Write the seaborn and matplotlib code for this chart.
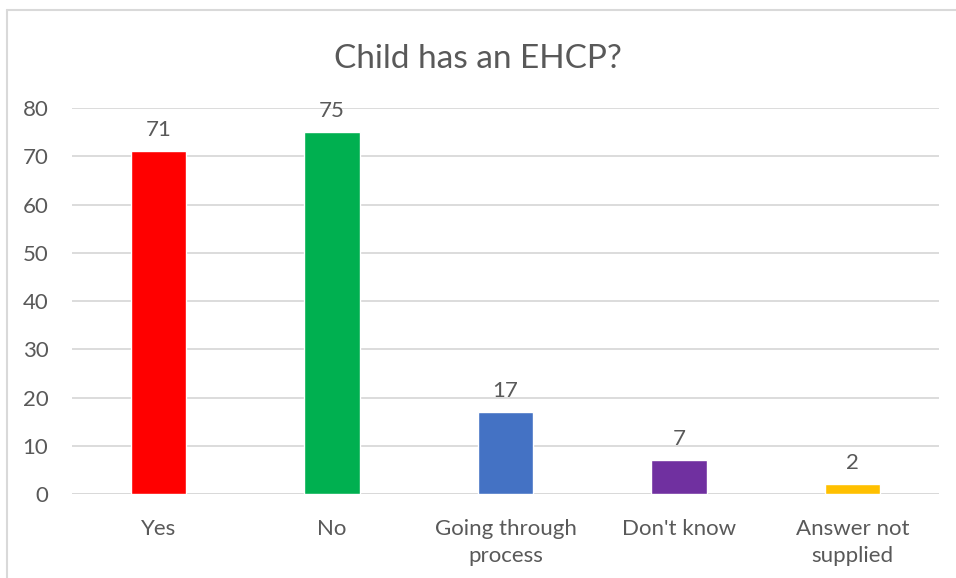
import matplotlib
matplotlib.use("Agg")
import matplotlib.pyplot as plt
import seaborn as sns
import pandas as pd
from matplotlib.lines import Line2D

categories = ["Yes", "No", "Going through\nprocess", "Don't know", "Answer not\nsupplied"]
counts = [71, 75, 17, 7, 2]
colors = ["#FF0000", "#00B050", "#4472C4", "#7030A0", "#FFC000"]
yticks = [0, 10, 20, 30, 40, 50, 60, 70, 80]
title = "Child has an EHCP?"

sns.set_theme(style="white")
plt.rcParams["font.family"] = ["Lato", "DejaVu Sans"]
text_color = "#595959"
grid_color = "#D9D9D9"

df = pd.DataFrame({"category": categories, "count": counts})

fig = plt.figure(figsize=(9.56, 5.78), dpi=100)
ax = fig.add_axes([0.0753, 0.1453, 0.9069, 0.6678])

sns.barplot(data=df, x="category", y="count", hue="category", palette=colors,
            width=0.32, legend=False, ax=ax, saturation=1)

ax.set_ylim(0, 80)
ax.set_xlim(-0.5, len(categories) - 0.5)
ax.set_yticks(yticks)
ax.set_yticklabels([str(t) for t in yticks])
ax.yaxis.grid(True, color=grid_color, linewidth=1.3)
ax.set_axisbelow(True)
for s in ax.spines.values():
    s.set_visible(False)
ax.axhline(0, color=grid_color, linewidth=1.3, zorder=0.5)

ax.tick_params(axis="both", length=0, labelsize=16, colors=text_color)
ax.tick_params(axis="x", pad=18)
ax.tick_params(axis="y", pad=17)
for lbl in ax.get_xticklabels():
    lbl.set_linespacing(1.45)
ax.set_xlabel("")
ax.set_ylabel("")

for container in ax.containers:
    ax.bar_label(container, fmt="%d", padding=8, fontsize=16, color=text_color)

fig.text(0.5, 0.898, title, ha="center", va="center", fontsize=24, color=text_color)

# chart frame (top and left edges)
fig.add_artist(Line2D([0.0073, 1.0], [0.983, 0.983], transform=fig.transFigure,
                      color=grid_color, linewidth=1.5))
fig.add_artist(Line2D([0.0073, 0.0073], [0.0, 0.983], transform=fig.transFigure,
                      color=grid_color, linewidth=1.5))

fig.savefig("out.png", dpi=100, facecolor="white")
